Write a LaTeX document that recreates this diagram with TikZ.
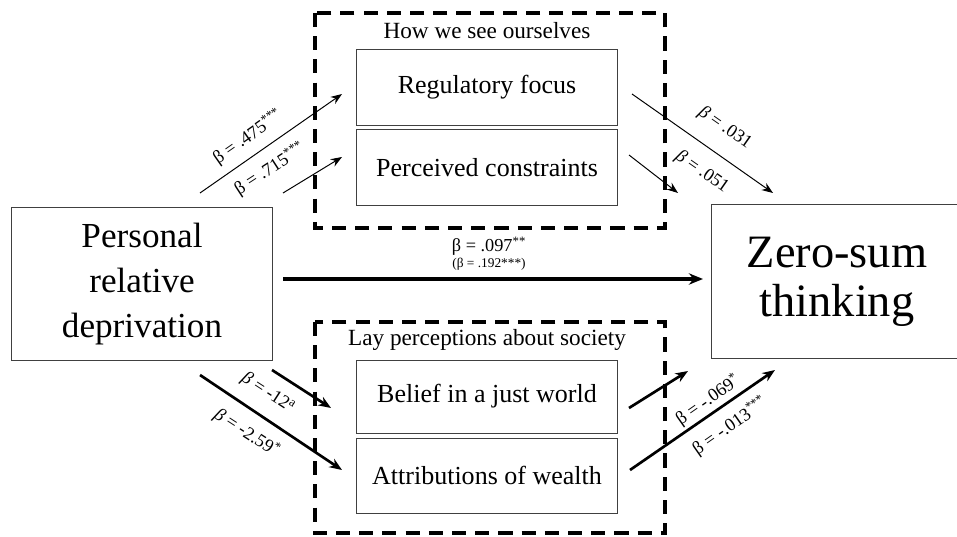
\documentclass[tikz,border=0pt]{standalone}
\usepackage{fontspec}
\setmainfont{Liberation Serif}
\usetikzlibrary{arrows.meta}
\begin{document}
\begin{tikzpicture}[x=0.025cm, y=-0.025cm,
        box/.style={draw=black!75, line width=0.7pt, inner sep=0pt, align=center},
        groupbox/.style={line width=2.6pt, dash pattern=on 10pt off 6.5pt},
        thinarrow/.style={line width=0.7pt, -{Stealth[length=8pt, width=6pt]}},
        thickarrow/.style={line width=1.9pt, -{Stealth[length=9pt, width=7pt]}},
        coef/.style={font=\fontsize{13}{15}\selectfont, inner sep=1pt}]
                \useasboundingbox (0, 0) rectangle (957, 537);

                % groups
                \draw[groupbox] (315, 13) rectangle (665, 228);
                \draw[groupbox] (315, 322) rectangle (665, 533);
                \node (selflabel) at (487, 31) {\fontsize{16.5}{18}\selectfont How we see ourselves};
                \node (laylabel) at (487, 340) {\fontsize{16.5}{18}\selectfont Lay perceptions about society};

                % boxes
                \node[box, minimum width=6.5cm, minimum height=3.825cm,
                    font=\fontsize{25}{32}\selectfont] (prd) at (142, 284) {Personal\\relative\\deprivation};
                \node[box, minimum width=6.25cm, minimum height=3.825cm,
                    font=\fontsize{33}{35}\selectfont] (zst) at (837, 281.5) {Zero-sum\\thinking};

                \node[box, minimum width=6.5cm, minimum height=1.875cm,
                    font=\fontsize{18.5}{20}\selectfont] (rf) at (487, 87.5) {Regulatory focus};
                \node[box, minimum width=6.5cm, minimum height=1.875cm,
                    font=\fontsize{18.5}{20}\selectfont] (pc) at (487, 167.5) {Perceived constraints};
                \node[box, minimum width=6.5cm, minimum height=1.825cm,
                    font=\fontsize{18.5}{20}\selectfont] (bjw) at (487, 396.5) {Belief in a just world};
                \node[box, minimum width=6.5cm, minimum height=1.875cm,
                    font=\fontsize{18.5}{20}\selectfont] (aw) at (487, 475.5) {Attributions of wealth};

                % arrow ends
                \coordinate (a1s) at (200, 193);
                \coordinate (a1e) at (342, 94);
                \coordinate (a2s) at (283, 193);
                \coordinate (a2e) at (342, 157);
                \coordinate (b1s) at (632, 94);
                \coordinate (b1e) at (773, 193);
                \coordinate (b2s) at (629, 155);
                \coordinate (b2e) at (678, 193);
                \coordinate (cs) at (283, 279);
                \coordinate (ce) at (703, 279);
                \coordinate (d1s) at (272, 370);
                \coordinate (d1e) at (331, 408);
                \coordinate (d2s) at (200, 375);
                \coordinate (d2e) at (342, 470);
                \coordinate (e1s) at (629, 408);
                \coordinate (e1e) at (688, 371);
                \coordinate (e2s) at (630, 470);
                \coordinate (e2e) at (775, 370);

                \draw[thinarrow] (a1s) -- (a1e);
                \draw[thinarrow] (a2s) -- (a2e);
                \draw[thinarrow] (b1s) -- (b1e);
                \draw[thinarrow] (b2s) -- (b2e);
                \draw[line width=2.4pt, -{Stealth[length=10pt, width=8pt]}] (cs) -- (ce);
                \draw[thickarrow] (d1s) -- (d1e);
                \draw[thickarrow] (d2s) -- (d2e);
                \draw[thickarrow] (e1s) -- (e1e);
                \draw[thickarrow] (e2s) -- (e2e);

                % coefficients
                \node[coef, rotate=35] (c475) at (248, 137) {β = .475\textsuperscript{***}};
                \node[coef, rotate=33] (c715) at (270, 169) {β = .715\textsuperscript{***}};
                \node[coef, rotate=-35] (c031) at (725, 128) {\textit{β} = .031};
                \node[coef, rotate=-35] (c051) at (702, 172) {\textit{β} = .051};
                \node[coef, rotate=-33] (c12) at (268, 393) {\textit{β} = -12\textsuperscript{a}};
                \node[coef, rotate=-33] (c259) at (247, 433) {\textit{β} = -2.59\textsuperscript{*}};
                \node[coef, rotate=35] (c069) at (708, 400) {β = -.069\textsuperscript{*}};
                \node[coef, rotate=35] (c013) at (730, 426) {β = -.013\textsuperscript{***}};
                \node[coef] (c097) at (489, 246) {β = .097\textsuperscript{**}};
                \node[coef, font=\fontsize{9.5}{11}\selectfont] (c192) at (489, 264) {(β = .192***)};
            \end{tikzpicture}
\end{document}
